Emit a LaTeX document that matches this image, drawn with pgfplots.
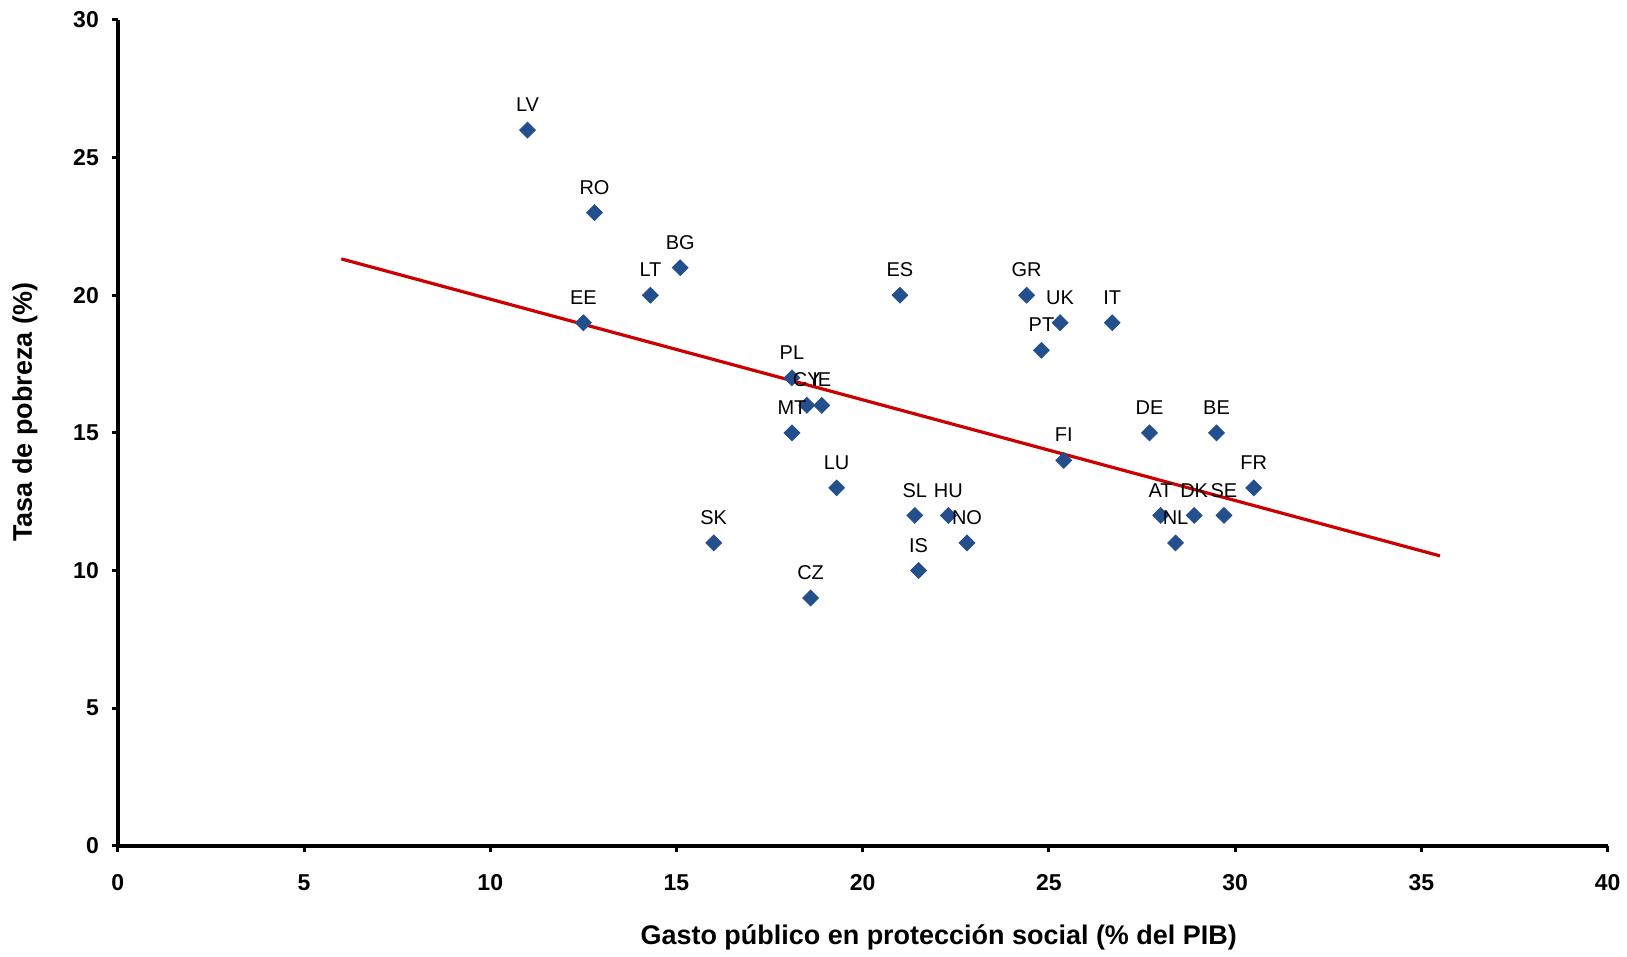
\documentclass[border=0pt]{standalone}
\usepackage{fontspec}
\setmainfont{Liberation Sans}
\usepackage{pgfplots}
\pgfplotsset{compat=1.18}
\usepackage{pgfplotstable}

\definecolor{ptblue}{RGB}{35,79,140}
\definecolor{trendred}{RGB}{204,0,0}

% gasto social (% PIB), tasa de pobreza (%), pais
\pgfplotstableread{
x    y   lab
11.0 26  LV
12.8 23  RO
15.1 21  BG
14.3 20  LT
12.5 19  EE
21.0 20  ES
24.4 20  GR
25.3 19  UK
26.7 19  IT
24.8 18  PT
18.1 17  PL
18.5 16  CY
18.9 16  IE
18.1 15  MT
27.7 15  DE
29.5 15  BE
25.4 14  FI
19.3 13  LU
30.5 13  FR
21.4 12  SL
22.3 12  HU
28.0 12  AT
28.9 12  DK
29.7 12  SE
16.0 11  SK
22.8 11  NO
28.4 11  NL
21.5 10  IS
18.6 9   CZ
}\datos

\begin{document}
\begin{tikzpicture}
\begin{axis}[
  scale only axis,
  width=746pt, height=413.5pt,
  xmin=0, xmax=40, ymin=0, ymax=30,
  xtick={0,5,...,40}, ytick={0,5,...,30},
  axis lines=left,
  axis line style={line width=1.8pt, black, -},
  tick align=outside,
  major tick length=3pt,
  tick style={line width=1.5pt, black},
  /pgf/number format/assume math mode=true,
  ticklabel style={font=\bfseries\fontsize{11.5}{13}\selectfont},
  xticklabel style={yshift=-8pt},
  yticklabel style={xshift=-3pt},
  xlabel={Gasto público en protección social (\% del PIB)},
  ylabel={Tasa de pobreza (\%)},
  label style={font=\bfseries\fontsize{13.5}{16}\selectfont},
  xlabel style={at={(axis description cs:0.551,0)}, anchor=base, yshift=-49.5pt},
  ylabel style={at={(axis description cs:0,0.525)}, anchor=base, yshift=43pt},
  clip=false,
]
\addplot[only marks, mark=square*, mark size=2.8pt,
  mark options={rotate=45, fill=ptblue, draw=ptblue},
  point meta=explicit symbolic,
  nodes near coords,
  every node near coord/.append style={font=\fontsize{10}{11}\selectfont,
    text=black, anchor=base, inner sep=0pt, yshift=9.2pt}]
  table[x=x, y=y, meta=lab] {\datos};
\addplot[trendred, line width=1.6pt] coordinates {(6.0,21.32) (35.5,10.53)};
\coordinate (sw) at (rel axis cs:0,0);
\coordinate (ne) at (rel axis cs:1,1);
\end{axis}
\path ([shift={(-59pt,-53pt)}]sw) rectangle ([shift={(8.5pt,10pt)}]ne);
\end{tikzpicture}
\end{document}
